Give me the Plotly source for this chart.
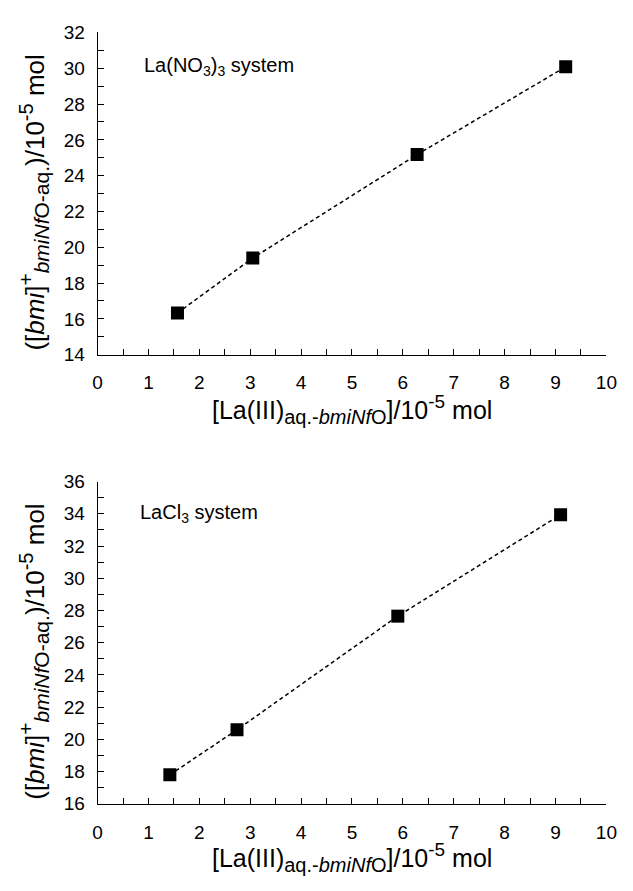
import plotly.graph_objects as go

# Data
x_no3 = [1.57, 3.05, 6.28, 9.2]
y_no3 = [16.33, 19.4, 25.18, 30.08]
x_cl = [1.42, 2.74, 5.9, 9.1]
y_cl = [17.8, 20.6, 27.65, 33.95]

W, H = 633, 891
FONT = "Liberation Sans, Arial, sans-serif"

fig = go.Figure()
fig.add_trace(go.Scatter(x=x_no3, y=y_no3, mode="lines+markers",
                         line=dict(color="black", width=1.5, dash="4px,3px"),
                         marker=dict(symbol="square", size=13, color="black"),
                         xaxis="x", yaxis="y", showlegend=False))
fig.add_trace(go.Scatter(x=x_cl, y=y_cl, mode="lines+markers",
                         line=dict(color="black", width=1.5, dash="4px,3px"),
                         marker=dict(symbol="square", size=13, color="black"),
                         xaxis="x2", yaxis="y2", showlegend=False))

xd = [95 / W, 617 / W]
top_dom = [1 - 353 / H, 1 - 23 / H]
bot_dom = [1 - 813 / H, 1 - 483 / H]

common_x = dict(range=[0, 10], dtick=1, tick0=0, ticks="inside", ticklen=6,
                tickcolor="black", showline=True, linecolor="black", linewidth=1,
                showgrid=False, zeroline=False, ticklabelstandoff=11,
                tickfont=dict(family=FONT, size=19, color="black"),
                minor=dict(dtick=0.5, ticks="inside", ticklen=6, tickcolor="black", showgrid=False))
common_y = dict(ticks="inside", ticklen=6, dtick=2,
                tickcolor="black", showline=True, linecolor="black", linewidth=1,
                showgrid=False, zeroline=False, ticklabelstandoff=8,
                tickfont=dict(family=FONT, size=19, color="black"),
                minor=dict(dtick=1, ticks="inside", ticklen=6, tickcolor="black", showgrid=False))

fig.update_layout(
    width=W, height=H, margin=dict(l=0, r=0, t=0, b=0),
    paper_bgcolor="white", plot_bgcolor="white",
    font=dict(family=FONT, color="black"),
    xaxis=dict(domain=xd, anchor="y", **common_x),
    yaxis=dict(domain=top_dom, anchor="x", range=[14, 32], tick0=14, **common_y),
    xaxis2=dict(domain=xd, anchor="y2", **common_x),
    yaxis2=dict(domain=bot_dom, anchor="x2", range=[16, 36], tick0=16, **common_y),
)

xtitle = ("[La(III)<sub><span style='font-size:20px'>aq.-<i>bmiNf</i>O</span></sub>]"
          "/10<sup><span style='font-size:19px'>-5</span></sup> mol")
ytitle = ("([<i>bmi</i>]<sup><span style='font-size:21px'>+</span></sup>"
          "<sub><span style='font-size:21px'><i>bmiNf</i>O-aq.</span></sub>)"
          "/10<sup><span style='font-size:20px'>-5</span></sup> mol")

anns = []
# x titles
for yc in (409, 868):
    anns.append(dict(x=356 / W, y=1 - yc / H, xref="paper", yref="paper",
                     text=xtitle, showarrow=False, xanchor="center", yanchor="middle",
                     font=dict(family=FONT, size=25, color="black")))
# y titles
for yc in (197, 657):
    anns.append(dict(x=29 / W, y=1 - yc / H, xref="paper", yref="paper",
                     text=ytitle, showarrow=False, xanchor="center", yanchor="middle",
                     textangle=-90, font=dict(family=FONT, size=26, color="black")))
# system labels
anns.append(dict(x=141 / W, y=1 - 58 / H, xref="paper", yref="paper",
                 text="La(NO<sub>3</sub>)<sub>3</sub> system", showarrow=False,
                 xanchor="left", yanchor="middle", font=dict(family=FONT, size=20, color="black")))
anns.append(dict(x=136 / W, y=1 - 516 / H, xref="paper", yref="paper",
                 text="LaCl<sub>3</sub> system", showarrow=False,
                 xanchor="left", yanchor="middle", font=dict(family=FONT, size=20, color="black")))
fig.update_layout(annotations=anns)

fig.write_html("out.html")
